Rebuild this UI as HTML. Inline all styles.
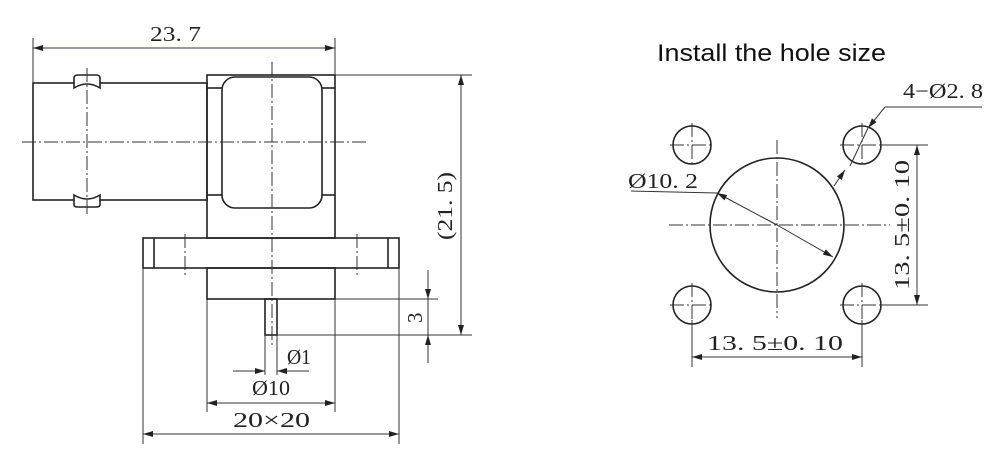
<!DOCTYPE html>
<html><head><meta charset="utf-8"><style>
html,body{margin:0;padding:0;background:#fff;}
svg{display:block;}
text{font-family:"Liberation Serif","DejaVu Serif",serif;fill:#222;}
</style></head><body>
<svg width="1000" height="451" viewBox="0 0 1000 451" xmlns="http://www.w3.org/2000/svg">
<defs>
<marker id="a" viewBox="0 0 10 6" refX="10" refY="3" markerWidth="12" markerHeight="6" orient="auto-start-reverse" markerUnits="userSpaceOnUse"><path d="M0,0 L10,3 L0,6 Z" fill="#222"/></marker>
</defs>
<g stroke="#222" stroke-width="1.6" fill="none">
<rect x="33" y="83" width="174" height="117"/>
<path d="M74,88 L74,78 Q74,75 78,75 L96,75 Q100,75 100,78 L100,88 Q87,80 74,88 Z" fill="#fff"/>
<path d="M74,195 L74,205 Q74,207 78,207 L96,207 Q100,207 100,205 L100,195 Q87,203 74,195 Z" fill="#fff"/>
<rect x="207" y="75" width="128" height="163"/>
<rect x="222" y="77" width="100" height="131" rx="13"/>
<line x1="207" y1="88" x2="222" y2="88"/><line x1="322" y1="88" x2="335" y2="88"/>
<line x1="207" y1="195" x2="222" y2="195"/><line x1="322" y1="195" x2="335" y2="195"/>
<rect x="143" y="238" width="256" height="30"/>
<line x1="154" y1="238" x2="154" y2="268"/><line x1="388" y1="238" x2="388" y2="268"/>
<rect x="207" y="268" width="128" height="31"/>
<rect x="265" y="299" width="12" height="36"/>
<circle cx="777" cy="225" r="67"/>
<circle cx="692" cy="145" r="19"/><circle cx="862" cy="145" r="19"/>
<circle cx="692" cy="305" r="19"/><circle cx="862" cy="305" r="19"/>
</g>
<g stroke="#333" stroke-width="1" fill="none" stroke-dasharray="14,3,2,3">
<line x1="22" y1="142" x2="367" y2="142"/>
<line x1="87" y1="68" x2="87" y2="215"/>
<line x1="272" y1="62" x2="272" y2="348"/>
<line x1="185" y1="234" x2="185" y2="277"/>
<line x1="357" y1="234" x2="357" y2="277"/>
<line x1="669" y1="225" x2="890" y2="225"/>
<line x1="777" y1="140" x2="777" y2="318"/>
<line x1="670" y1="145" x2="714" y2="145"/><line x1="692" y1="123" x2="692" y2="167"/>
<line x1="840" y1="145" x2="884" y2="145"/><line x1="862" y1="123" x2="862" y2="167"/>
<line x1="670" y1="305" x2="714" y2="305"/><line x1="692" y1="283" x2="692" y2="327"/>
<line x1="840" y1="305" x2="884" y2="305"/><line x1="862" y1="283" x2="862" y2="327"/>
</g>
<g stroke="#333" stroke-width="1" fill="none">
<line x1="33" y1="38" x2="33" y2="83"/><line x1="335" y1="38" x2="335" y2="75"/>
<line x1="33" y1="48" x2="335" y2="48" marker-start="url(#a)" marker-end="url(#a)" stroke="#335"/>
<line x1="335" y1="75" x2="472" y2="75"/><line x1="277" y1="335" x2="472" y2="335"/>
<line x1="461" y1="75" x2="461" y2="335" marker-start="url(#a)" marker-end="url(#a)"/>
<line x1="335" y1="299" x2="438" y2="299"/>
<line x1="428" y1="270" x2="428" y2="299" marker-end="url(#a)"/>
<line x1="428" y1="363" x2="428" y2="335" marker-end="url(#a)"/>
<line x1="428" y1="299" x2="428" y2="335"/>
<line x1="265" y1="335" x2="265" y2="375"/><line x1="277" y1="335" x2="277" y2="375"/>
<line x1="233" y1="371" x2="265" y2="371" marker-end="url(#a)"/>
<line x1="309" y1="371" x2="277" y2="371" marker-end="url(#a)"/>
<line x1="207" y1="299" x2="207" y2="412"/><line x1="335" y1="299" x2="335" y2="412"/>
<line x1="207" y1="403" x2="335" y2="403" marker-start="url(#a)" marker-end="url(#a)"/>
<line x1="143" y1="268" x2="143" y2="444"/><line x1="399" y1="268" x2="399" y2="444"/>
<line x1="143" y1="434" x2="399" y2="434" marker-start="url(#a)" marker-end="url(#a)"/>
<line x1="631" y1="191" x2="717" y2="193"/>
<line x1="777" y1="225" x2="717" y2="193" marker-end="url(#a)"/>
<line x1="777" y1="225" x2="833" y2="257" marker-end="url(#a)"/>
<line x1="982" y1="107" x2="885" y2="107"/>
<line x1="885" y1="107" x2="868" y2="128" marker-end="url(#a)"/>
<line x1="868" y1="128" x2="850" y2="166"/>
<line x1="845" y1="170" x2="834" y2="186" marker-start="url(#a)"/>
<line x1="880" y1="145" x2="928" y2="145"/><line x1="880" y1="305" x2="928" y2="305"/>
<line x1="917" y1="145" x2="917" y2="305" marker-start="url(#a)" marker-end="url(#a)"/>
<line x1="692" y1="320" x2="692" y2="367"/><line x1="862" y1="320" x2="862" y2="367"/>
<line x1="692" y1="357" x2="862" y2="357" marker-start="url(#a)" marker-end="url(#a)"/>
</g>
<g font-size="21" lengthAdjust="spacingAndGlyphs">
<text x="150" y="41" textLength="51" lengthAdjust="spacingAndGlyphs">23. 7</text>
<text transform="translate(452,240) rotate(-90)" textLength="68" lengthAdjust="spacingAndGlyphs">(21. 5)</text>
<text transform="translate(422,323) rotate(-90)">3</text>
<text x="287" y="364" textLength="24" lengthAdjust="spacingAndGlyphs">Ø1</text>
<text x="252" y="395" textLength="38" lengthAdjust="spacingAndGlyphs">Ø10</text>
<text x="233" y="427" textLength="77" lengthAdjust="spacingAndGlyphs">20×20</text>
<text x="628" y="188" textLength="70" lengthAdjust="spacingAndGlyphs">Ø10. 2</text>
<text x="903" y="98" textLength="80" lengthAdjust="spacingAndGlyphs">4−Ø2. 8</text>
<text transform="translate(909,290) rotate(-90)" textLength="130" lengthAdjust="spacingAndGlyphs">13. 5±0. 10</text>
<text x="707" y="350" textLength="136" lengthAdjust="spacingAndGlyphs">13. 5±0. 10</text>
</g>
<text x="657" y="61" font-size="24" textLength="229" lengthAdjust="spacingAndGlyphs" style="font-family:'Liberation Sans','DejaVu Sans',sans-serif;fill:#111">Install the hole size</text>
</svg>
</body></html>
